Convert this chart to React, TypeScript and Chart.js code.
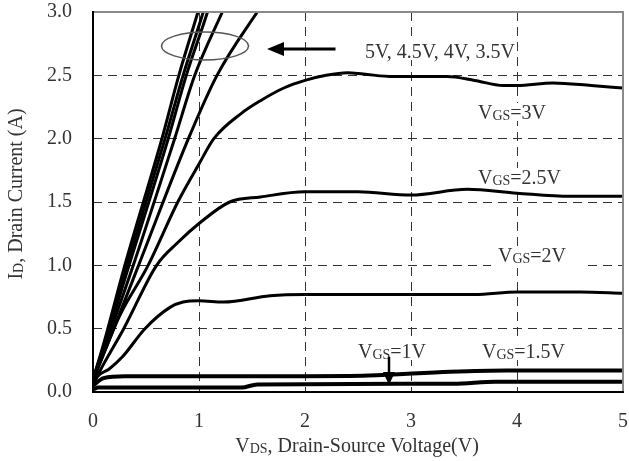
import React, { useEffect, useRef } from "react";
import Chart from "chart.js/auto";

const FONT = "'Liberation Serif', 'Times New Roman', serif";

// x ticks / y ticks
const xTicks = [0, 1, 2, 3, 4, 5];
const yTicks = [0, 0.5, 1.0, 1.5, 2.0, 2.5, 3.0];

// steep curves (VGS = 5V, 4.5V, 4V, 3.5V group)
const vdsA = [0, 0.1, 0.3, 0.65, 0.81, 0.99, 1.06];
const idA = [0.1, 0.38, 1.0, 2.0, 2.5, 3.0, 3.2];
const vdsB = [0, 0.1, 0.32, 0.68, 0.85, 1.04, 1.11];
const idB = [0.1, 0.36, 1.0, 2.0, 2.5, 3.0, 3.2];
const vdsC = [0, 0.1, 0.34, 0.71, 0.88, 1.08, 1.15];
const idC = [0.1, 0.35, 1.0, 2.0, 2.5, 3.0, 3.2];
const vdsD = [0, 0.1, 0.38, 0.77, 0.96, 1.22, 1.3];
const idD = [0.1, 0.33, 1.0, 2.0, 2.5, 3.0, 3.15];
const vdsE = [0, 0.1, 0.43, 0.9, 1.17, 1.55, 1.65];
const idE = [0.1, 0.3, 1.0, 2.0, 2.5, 3.0, 3.12];

// VGS = 3V
const vds3 = [0, 0.1, 0.25, 0.52, 0.8, 1.0, 1.14, 1.4, 1.58, 1.8, 2.0, 2.2, 2.4, 2.55, 2.83, 3.34, 3.6, 3.87, 4.0, 4.34, 4.7, 5.0];
const id3 = [0.08, 0.3, 0.6, 1.0, 1.5, 1.8, 2.0, 2.2, 2.3, 2.4, 2.46, 2.5, 2.52, 2.51, 2.49, 2.49, 2.46, 2.42, 2.42, 2.44, 2.42, 2.4];
// VGS = 2.5V
const vds25 = [0, 0.1, 0.29, 0.6, 0.8, 1.0, 1.29, 1.58, 2.0, 2.5, 3.0, 3.53, 4.0, 4.5, 5.0];
const id25 = [0.06, 0.22, 0.5, 1.0, 1.18, 1.33, 1.5, 1.54, 1.58, 1.58, 1.555, 1.6, 1.57, 1.545, 1.545];
// VGS = 2V
const vds2 = [0, 0.04, 0.15, 0.28, 0.49, 0.73, 0.85, 1.0, 1.23, 1.67, 2.0, 3.0, 3.6, 4.0, 4.6, 5.0];
const id2 = [0.05, 0.12, 0.18, 0.28, 0.5, 0.67, 0.71, 0.72, 0.71, 0.76, 0.77, 0.77, 0.77, 0.79, 0.79, 0.78];
// VGS = 1.5V
const vds15 = [0, 0.1, 0.3, 2.0, 2.6, 3.37, 3.9, 5.0];
const id15 = [0.05, 0.11, 0.125, 0.125, 0.13, 0.16, 0.17, 0.17];
// VGS = 1V
const vds1 = [0, 0.05, 1.4, 1.55, 3.4, 3.8, 5.0];
const id1 = [0.02, 0.035, 0.035, 0.06, 0.065, 0.08, 0.08];

const curves = [
  { label: "VGS=5V", x: vdsA, y: idA, w: 3 },
  { label: "VGS=4.5V", x: vdsB, y: idB, w: 3 },
  { label: "VGS=4V", x: vdsC, y: idC, w: 3 },
  { label: "VGS=3.5V (a)", x: vdsD, y: idD, w: 3 },
  { label: "VGS=3.5V (b)", x: vdsE, y: idE, w: 3 },
  { label: "VGS=3V", x: vds3, y: id3, w: 3 },
  { label: "VGS=2.5V", x: vds25, y: id25, w: 3 },
  { label: "VGS=2V", x: vds2, y: id2, w: 3 },
  { label: "VGS=1.5V", x: vds15, y: id15, w: 4 },
  { label: "VGS=1V", x: vds1, y: id1, w: 4 },
];

type Part = { t: string; s: number; dy?: number };

function drawParts(
  ctx: CanvasRenderingContext2D,
  parts: Part[],
  x: number,
  y: number,
  align: "left" | "center",
  bg = false
) {
  let total = 0;
  for (const p of parts) {
    ctx.font = `${p.s}px ${FONT}`;
    total += ctx.measureText(p.t).width;
  }
  let cx = align === "center" ? x - total / 2 : x;
  if (bg) {
    const prev = ctx.fillStyle;
    ctx.fillStyle = "#fff";
    ctx.fillRect(cx - 2, y - 16, total + 4, 18);
    ctx.fillStyle = prev;
  }
  ctx.textAlign = "left";
  ctx.textBaseline = "alphabetic";
  for (const p of parts) {
    ctx.font = `${p.s}px ${FONT}`;
    ctx.fillText(p.t, cx, y + (p.dy || 0));
    cx += ctx.measureText(p.t).width;
  }
}

const vgs = (v: string): Part[] => [
  { t: "V", s: 20 },
  { t: "GS", s: 14, dy: 1 },
  { t: "=" + v, s: 20 },
];

const overlay = {
  id: "overlay",
  afterDatasetsDraw(chart: any) {
    const ctx: CanvasRenderingContext2D = chart.ctx;
    const a = chart.chartArea;
    ctx.save();

    // white gap behind VGS=2V label
    ctx.fillStyle = "#fff";
    ctx.fillRect(491, 259, 92, 9);

    ctx.fillStyle = "#333";
    drawParts(ctx, [{ t: "5V, 4.5V, 4V, 3.5V", s: 20 }], 365, 58, "left", true);
    drawParts(ctx, vgs("3V"), 478, 119, "left", true);
    drawParts(ctx, vgs("2.5V"), 478, 184, "left", true);
    drawParts(ctx, vgs("2V"), 498, 262, "left", true);
    drawParts(ctx, vgs("1V"), 358, 358, "left", true);
    drawParts(ctx, vgs("1.5V"), 482, 358, "left", true);

    // frame
    ctx.lineCap = "square";
    ctx.strokeStyle = "#8a8a8a";
    ctx.lineWidth = 2;
    ctx.beginPath();
    ctx.moveTo(a.left, a.top);
    ctx.lineTo(a.right, a.top);
    ctx.lineTo(a.right, a.bottom);
    ctx.stroke();
    ctx.strokeStyle = "#000";
    ctx.lineWidth = 2;
    ctx.beginPath();
    ctx.moveTo(a.left, a.top);
    ctx.lineTo(a.left, a.bottom);
    ctx.lineTo(a.right, a.bottom);
    ctx.stroke();

    // ellipse
    ctx.strokeStyle = "#555";
    ctx.lineWidth = 1.5;
    ctx.beginPath();
    ctx.ellipse(205, 46, 43.5, 14, 0, 0, Math.PI * 2);
    ctx.stroke();

    // left arrow
    ctx.strokeStyle = "#000";
    ctx.fillStyle = "#000";
    ctx.lineWidth = 3;
    ctx.beginPath();
    ctx.moveTo(334, 49);
    ctx.lineTo(280, 49);
    ctx.stroke();
    ctx.beginPath();
    ctx.moveTo(267, 49);
    ctx.lineTo(284, 42);
    ctx.lineTo(284, 56);
    ctx.closePath();
    ctx.fill();

    // small down arrow
    ctx.lineWidth = 2.5;
    ctx.beginPath();
    ctx.moveTo(389, 358);
    ctx.lineTo(389, 375);
    ctx.stroke();
    ctx.beginPath();
    ctx.moveTo(389, 385);
    ctx.lineTo(383, 372);
    ctx.lineTo(395, 372);
    ctx.closePath();
    ctx.fill();

    ctx.fillStyle = "#333";
    // x title
    drawParts(
      ctx,
      [
        { t: "V", s: 20 },
        { t: "DS", s: 14, dy: 1 },
        { t: ", Drain-Source Voltage(V)", s: 20 },
      ],
      357,
      452,
      "center"
    );
    // y title
    ctx.translate(22, 194);
    ctx.rotate(-Math.PI / 2);
    drawParts(
      ctx,
      [
        { t: "I", s: 20 },
        { t: "D", s: 14, dy: 1 },
        { t: ", Drain Current (A)", s: 20 },
      ],
      0,
      0,
      "center"
    );
    ctx.restore();
  },
};

export default function App() {
  const ref = useRef<HTMLCanvasElement | null>(null);
  useEffect(() => {
    if (!ref.current) return;
    const chart = new Chart(ref.current, {
      type: "line",
      data: {
        datasets: curves.map((c) => ({
          label: c.label,
          data: c.x.map((v, i) => ({ x: v, y: c.y[i] })),
          borderColor: "#000",
          borderWidth: c.w,
          pointRadius: 0,
          fill: false,
          cubicInterpolationMode: "monotone" as const,
        })),
      },
      plugins: [overlay],
      options: {
        responsive: false,
        animation: false,
        events: [],
        layout: { padding: { left: 0, right: 6, top: 12, bottom: 0 } },
        plugins: { legend: { display: false }, tooltip: { enabled: false } },
        scales: {
          x: {
            type: "linear",
            min: 0,
            max: 5,
            afterFit: (s: any) => {
              s.height = 69;
              s.paddingLeft = 0;
              s.paddingRight = 0;
            },
            afterBuildTicks: (s: any) => {
              s.ticks = xTicks.map((v) => ({ value: v }));
            },
            ticks: {
              padding: 18,
              color: "#333",
              font: { family: FONT, size: 20 },
              callback: (v: any) => String(v),
            },
            grid: { color: "#333", lineWidth: 1, drawTicks: false },
            border: { display: false, dash: [9, 6] },
          },
          y: {
            type: "linear",
            min: 0,
            max: 3,
            afterFit: (s: any) => {
              s.width = 93;
              s.paddingTop = 0;
              s.paddingBottom = 0;
            },
            afterBuildTicks: (s: any) => {
              s.ticks = yTicks.map((v) => ({ value: v }));
            },
            ticks: {
              padding: 21,
              color: "#333",
              font: { family: FONT, size: 20 },
              callback: (v: any) => Number(v).toFixed(1),
            },
            grid: { color: "#333", lineWidth: 1, drawTicks: false },
            border: { display: false, dash: [9, 6] },
          },
        },
      },
    } as any);
    return () => chart.destroy();
  }, []);
  return (
    <div style={{ position: "absolute", left: 0, top: 0, width: 629, height: 461, background: "#fff" }}>
      <canvas ref={ref} width={629} height={461} />
    </div>
  );
}
